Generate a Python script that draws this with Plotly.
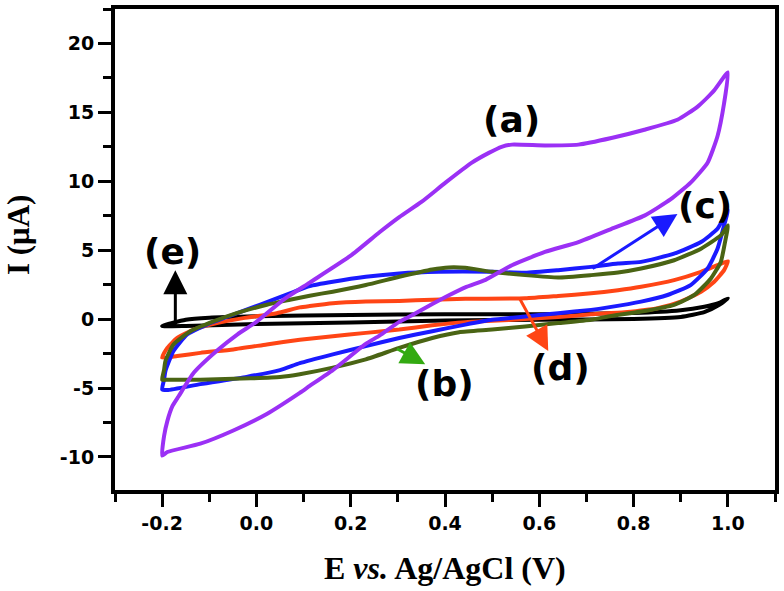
import plotly.graph_objects as go

# Cyclic voltammograms, potential (V vs Ag/AgCl) and current (uA)
# each loop: anodic sweep -0.2 -> 1.0 then cathodic sweep back to -0.2

E_A = [-0.2, -0.196, -0.189, -0.178, -0.165, -0.133, -0.084, -0.04, 0.0, 0.057, 0.113,
       0.2, 0.261, 0.303, 0.35, 0.401, 0.457, 0.493, 0.52, 0.542, 0.612, 0.683, 0.753,
       0.823, 0.893, 0.936, 0.971, 1.0,
       0.992, 0.978, 0.957, 0.921, 0.879, 0.823, 0.753, 0.683, 0.612, 0.542, 0.486,
       0.443, 0.401, 0.373, 0.331, 0.303, 0.261, 0.232, 0.162, 0.113, 0.092, 0.022,
       -0.049, -0.119, -0.189, -0.2]
I_A = [-9.9, -8.5, -7.4, -6.3, -5.6, -3.9, -2.3, -1.1, -0.2, 1.4, 2.65,
       4.6, 6.3, 7.4, 8.5, 9.9, 11.35, 12.06, 12.5, 12.66, 12.6, 12.66, 13.14,
       13.74, 14.46, 15.42, 16.6, 17.9,
       15.66, 13.27, 11.35, 9.9, 8.7, 7.51, 6.55, 5.59, 4.87, 3.91, 2.85,
       2.3, 1.6, 1.1, 0.3, -0.2, -1.2, -1.8, -3.7, -4.85, -5.35, -6.88,
       -8.08, -9.04, -9.64, -9.9]

E_B = [-0.2, -0.196, -0.193, -0.176, -0.14, -0.091, -0.042, 0.022, 0.071, 0.113, 0.162,
       0.232, 0.303, 0.373, 0.408, 0.443, 0.5, 0.57, 0.64, 0.71, 0.767, 0.816, 0.886,
       0.943, 0.985, 1.0,
       0.994, 0.985, 0.964, 0.929, 0.886, 0.816, 0.746, 0.71, 0.64, 0.57, 0.5, 0.43,
       0.373, 0.303, 0.232, 0.162, 0.092, 0.05, -0.013, -0.119, -0.189, -0.2]
I_B = [-4.4, -3.7, -3.04, -1.84, -0.88, -0.17, 0.43, 1.04, 1.4, 1.7, 1.99,
       2.47, 3.07, 3.6, 3.75, 3.72, 3.43, 3.19, 3.02, 3.19, 3.38, 3.67, 4.27,
       5.11, 6.07, 6.8,
       5.59, 4.15, 2.95, 1.75, 1.04, 0.55, 0.19, -0.05, -0.29, -0.53, -0.76, -0.95,
       -1.37, -2.09, -2.92, -3.52, -4.0, -4.2, -4.3, -4.4, -4.4, -4.4]

E_C = [-0.2, -0.196, -0.193, -0.176, -0.147, -0.105, -0.049, 0.007, 0.071, 0.113, 0.162,
       0.232, 0.303, 0.387, 0.5, 0.57, 0.64, 0.71, 0.767, 0.816, 0.886, 0.943, 0.978, 1.0,
       0.992, 0.978, 0.957, 0.921, 0.872, 0.816, 0.746, 0.71, 0.64, 0.57, 0.5, 0.443,
       0.373, 0.303, 0.232, 0.162, 0.092, 0.05, -0.021, -0.119, -0.189, -0.2]
I_C = [-5.1, -4.4, -3.76, -2.32, -1.12, -0.4, 0.32, 1.04, 1.87, 2.4, 2.71,
       3.07, 3.31, 3.43, 3.43, 3.36, 3.55, 3.79, 4.03, 4.15, 4.75, 5.59, 6.55, 7.9,
       6.79, 5.11, 3.67, 2.47, 1.75, 1.27, 0.85, 0.67, 0.43, 0.19, -0.05, -0.4,
       -0.88, -1.37, -1.96, -2.56, -3.2, -3.7, -4.19, -4.72, -5.15, -5.1]

E_D = [-0.2, -0.189, -0.168, -0.133, -0.084, -0.028, 0.043, 0.092, 0.113, 0.162, 0.232,
       0.303, 0.373, 0.443, 0.57, 0.64, 0.71, 0.767, 0.816, 0.886, 0.943, 0.978, 1.0,
       0.992, 0.971, 0.943, 0.9, 0.851, 0.781, 0.71, 0.64, 0.57, 0.5, 0.443, 0.373,
       0.303, 0.232, 0.162, 0.092, 0.022, -0.049, -0.119, -0.168, -0.2]
I_D = [-2.8, -2.09, -1.37, -0.76, -0.29, 0.07, 0.43, 0.85, 0.95, 1.15, 1.27,
       1.32, 1.4, 1.47, 1.51, 1.68, 1.87, 2.1, 2.35, 2.83, 3.43, 3.91, 4.2,
       3.55, 2.71, 1.99, 1.27, 0.79, 0.5, 0.35, 0.15, 0.0, -0.12, -0.22, -0.45,
       -0.76, -1.0, -1.24, -1.5, -1.84, -2.2, -2.45, -2.68, -2.8]

E_E = [-0.2, -0.15, -0.1, 0.0, 0.2, 0.4, 0.6, 0.8, 0.9, 0.95, 0.98, 1.0,
       0.98, 0.95, 0.9, 0.8, 0.6, 0.4, 0.2, 0.0, -0.15, -0.2]
I_E = [-0.5, -0.05, 0.1, 0.2, 0.3, 0.35, 0.35, 0.45, 0.65, 0.9, 1.15, 1.5,
       1.0, 0.5, 0.15, 0.0, -0.05, -0.1, -0.25, -0.35, -0.5, -0.5]

X_TICKS = [-0.2, 0.0, 0.2, 0.4, 0.6, 0.8, 1.0]
X_TICKTEXT = ["-0.2", "0.0", "0.2", "0.4", "0.6", "0.8", "1.0"]
Y_TICKS = [-10, -5, 0, 5, 10, 15, 20]
Y_TICKTEXT = ["-10", "-5", "0", "5", "10", "15", "20"]

series = [
    ("(e)", E_E, I_E, "#000000"),
    ("(d)", E_D, I_D, "#ff4515"),
    ("(c)", E_C, I_C, "#1a1aff"),
    ("(b)", E_B, I_B, "#4a6414"),
    ("(a)", E_A, I_A, "#9b30f5"),
]

fig = go.Figure()
for name, xs, ys, col in series:
    fig.add_trace(go.Scatter(
        x=xs, y=ys, mode="lines", name=name,
        line=dict(color=col, width=4, shape="spline", smoothing=0.5),
        showlegend=False,
    ))

# arrows: (tail_x, tail_y, head_x, head_y, colour)
arrows = [
    (-0.172, -0.5, -0.172, 3.55, "#000000"),
    (0.71, 3.6, 0.893, 7.63, "#1a1aff"),
    (0.295, -2.09, 0.358, -3.28, "#33aa11"),
    (0.556, 1.64, 0.619, -2.32, "#ff4515"),
]
for tx, ty, hx, hy, col in arrows:
    fig.add_annotation(
        x=hx, y=hy, ax=tx, ay=ty, xref="x", yref="y", axref="x", ayref="y",
        text="", showarrow=True, arrowhead=2, arrowsize=1.6, arrowwidth=3,
        arrowcolor=col,
    )

labels = [("(a)", 0.542, 14.45), ("(b)", 0.399, -4.7), ("(c)", 0.951, 8.23),
          ("(d)", 0.646, -3.52), ("(e)", -0.179, 4.94)]
for txt, lx, ly in labels:
    fig.add_annotation(
        x=lx, y=ly, xref="x", yref="y", text=txt, showarrow=False,
        font=dict(family="DejaVu Sans", size=36, color="#000000", weight="bold"),
    )

fig.add_annotation(
    x=0.5, y=0, xref="paper", yref="paper", yshift=-78, yanchor="middle",
    text="E <i>vs.</i> Ag/AgCl (V)", showarrow=False,
    font=dict(family="Liberation Serif", size=32, color="#000000", weight="bold"),
)
fig.add_annotation(
    x=0, y=0.53, xref="paper", yref="paper", xshift=-97, xanchor="center",
    text="I (μA)", textangle=-90, showarrow=False,
    font=dict(family="Liberation Serif", size=31, color="#000000", weight="bold"),
)

axis_common = dict(
    showgrid=False, zeroline=False, showline=True, linecolor="#000000", linewidth=4,
    mirror=True, ticks="outside", ticklen=13, tickwidth=3, tickcolor="#000000",
    tickfont=dict(family="DejaVu Sans", size=19, color="#000000", weight="bold"),
)

fig.update_xaxes(
    range=[-0.3, 1.1], tickvals=X_TICKS, ticktext=X_TICKTEXT,
    minor=dict(ticks="outside", dtick=0.1, tick0=-0.3, ticklen=8, tickwidth=3,
               tickcolor="#000000"),
    **axis_common,
)
fig.update_yaxes(
    range=[-12.4, 22.5], tickvals=Y_TICKS, ticktext=Y_TICKTEXT,
    minor=dict(ticks="outside", dtick=2.5, tick0=0, ticklen=8, tickwidth=3,
               tickcolor="#000000"),
    **axis_common,
)

fig.update_layout(
    width=784, height=591,
    margin=dict(l=115, r=6, t=5, b=101),
    plot_bgcolor="#ffffff", paper_bgcolor="#ffffff",
)

# page has a default body margin, drop it so the figure sits at the corner
fig.write_html("out.html", config={"displayModeBar": False},
               post_script="document.body.style.margin='0';")
